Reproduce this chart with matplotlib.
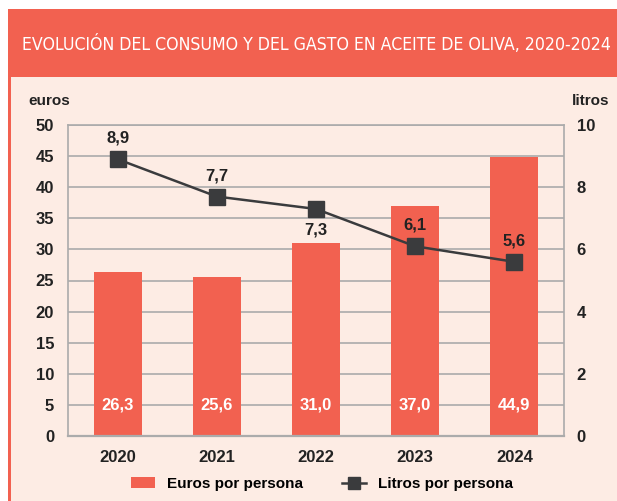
import numpy as np
import matplotlib.pyplot as plt
from matplotlib.patches import Rectangle
from matplotlib.lines import Line2D

# datos
anios = ['2020', '2021', '2022', '2023', '2024']
euros = [26.3, 25.6, 31.0, 37.0, 44.9]
litros = [8.9, 7.7, 7.3, 6.1, 5.6]
etiq_euros = ['26,3', '25,6', '31,0', '37,0', '44,9']
etiq_litros = ['8,9', '7,7', '7,3', '6,1', '5,6']
lado_litros = [1, 1, -1, 1, 1]  # 1 encima, -1 debajo

coral = '#F26150'
fondo = '#FDECE4'
oscuro = '#3A3B3D'
gris = '#ABABAB'

plt.rcParams['font.family'] = ['Liberation Sans', 'DejaVu Sans']

fig = plt.figure(figsize=(6.17, 5.01), dpi=100)
fig.patch.set_facecolor('white')

# panel de fondo, banda del titulo y borde
fig.add_artist(Rectangle((8/617, 0), 1, 1 - 9/501, transform=fig.transFigure,
                         facecolor=fondo, edgecolor='none', zorder=0))
fig.add_artist(Rectangle((8/617, 1 - 77/501), 1, 68/501, transform=fig.transFigure,
                         facecolor=coral, edgecolor='none', zorder=1))
fig.add_artist(Rectangle((8/617, 0), 3/617, 1 - 9/501, transform=fig.transFigure,
                         facecolor=coral, edgecolor='none', zorder=1))
fig.text(316/617, 1 - 45/501, 'EVOLUCIÓN DEL CONSUMO Y DEL GASTO EN ACEITE DE OLIVA, 2020-2024',
         color='white', fontsize=12.7, ha='center', va='center',
         family='DejaVu Sans', fontstretch='condensed', zorder=2)

ax = fig.add_axes([68/617, 1 - 436/501, 496/617, 311/501])
ax.set_facecolor('none')
x = np.arange(len(anios))
ax.bar(x, euros, width=0.485, color=coral, zorder=2)
ax.set_xlim(-0.5, 4.5)
ax.set_ylim(0, 50)
ax.set_yticks(np.arange(0, 51, 5))
ax.yaxis.grid(True, color=gris, linewidth=1.2, zorder=0)
ax.set_axisbelow(True)
ax.set_xticks(x)
ax.set_xticklabels(anios)
ax.tick_params(length=0, labelsize=12, colors='#222222')
ax.tick_params(axis='y', pad=10)
ax.tick_params(axis='x', pad=10)
for lab in ax.get_xticklabels() + ax.get_yticklabels():
    lab.set_fontweight('bold')
for s in ax.spines.values():
    s.set_color(gris)
    s.set_linewidth(1.2)
ax.spines['bottom'].set_linewidth(1.6)

for xi, t in zip(x, etiq_euros):
    ax.text(xi, 5, t, color='white', fontsize=12, fontweight='bold',
            ha='center', va='center', zorder=3)

ax2 = ax.twinx()
ax2.set_ylim(0, 10)
ax2.set_yticks(np.arange(0, 11, 2))
ax2.plot(x, litros, color=oscuro, linewidth=1.8, marker='s', markersize=11, zorder=4)
ax2.tick_params(length=0, labelsize=12, colors='#222222', pad=9)
for lab in ax2.get_yticklabels():
    lab.set_fontweight('bold')
for s in ax2.spines.values():
    s.set_visible(False)
for xi, v, t, d in zip(x, litros, etiq_litros, lado_litros):
    ax2.annotate(t, (xi, v), xytext=(0, 15 * d), textcoords='offset points',
                 ha='center', va='center', fontsize=12, fontweight='bold', color='#222222')

fig.text(28/617, 1 - 101/501, 'euros', fontsize=11, fontweight='bold', va='center', color='#222222')
fig.text(572/617, 1 - 101/501, 'litros', fontsize=11, fontweight='bold', va='center', color='#222222')

handles = [Rectangle((0, 0), 1, 1, facecolor=coral),
           Line2D([0], [0], color=oscuro, linewidth=1.8, marker='s', markersize=8)]
fig.legend(handles, ['Euros por persona', 'Litros por persona'], loc='center',
           bbox_to_anchor=(322/617, 1 - 484/501), ncol=2, frameon=False,
           prop={'weight': 'bold', 'size': 11}, handlelength=1.6, columnspacing=2.5)

fig.savefig('out.png', dpi=100, facecolor=fig.get_facecolor())
